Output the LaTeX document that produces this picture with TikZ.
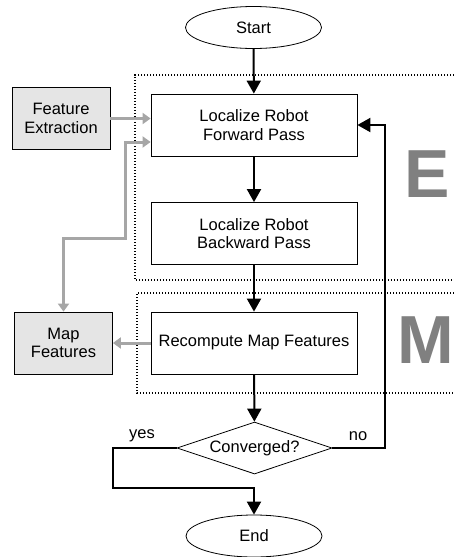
\documentclass[tikz,border=0pt]{standalone}
\usepackage{fontspec}
\setmainfont{Liberation Sans}
\usetikzlibrary{shapes.geometric,arrows.meta}

\begin{document}
\begin{tikzpicture}
  [x=1pt,y=-1pt,font=\fontsize{16.5}{18.5}\selectfont,
   every node/.style={align=center,inner sep=0pt},
   box/.style={draw,line width=0.8pt,minimum width=206pt,minimum height=62pt},
   side/.style={draw,line width=0.8pt,fill=black!10,minimum width=98pt,minimum height=62pt},
   term/.style={ellipse,draw,line width=0.8pt,minimum width=136pt,minimum height=42pt},
   decision/.style={diamond,draw,line width=0.8pt,shape aspect=3,minimum width=155pt,minimum height=52pt},
   flow/.style={line width=2pt,-{Triangle[length=13pt,width=14pt]}},
   feed/.style={line width=3pt,black!35,-{Triangle[length=8pt,width=11pt]}},
   step box/.style={line width=1.3pt,dash pattern=on 1.3pt off 1.7pt},
   letter/.style={anchor=base west,font=\fontsize{68}{68}\selectfont\bfseries,text=black!50}]
  \useasboundingbox (0,0) rectangle (453,557);

  \draw[step box] (460,75) -| (135,280) -- (460,280);
  \draw[step box] (460,293) -| (137,393) -- (460,393);
  \node[letter] (eletter) at (404,197) {E};
  \node[letter] (mletter) at (397,363) {M};

  \node[term] (start) at (253.5,27.5) {Start};
  \node[box] (fwd) at (254,125) {Localize Robot\\Forward Pass};
  \node[box] (bwd) at (254,233.5) {Localize Robot\\Backward Pass};
  \node[box] (rcmp) at (254,343) {Recompute Map Features};
  \node[side] (feat) at (61,118.5) {Feature\\Extraction};
  \node[side] (map) at (63.5,343) {Map\\Features};
  \node[decision] (conv) at (254.5,448) {Converged?};
  \node[term] (end) at (254,536) {End};
  \node (lyes) at (142,436) {yes};
  \node (lno) at (358,436) {no};

  \coordinate (yesturn) at (113,488);
  \coordinate (noturn) at (385,125);
  \coordinate (mapturn) at (125,238);

  \foreach \from/\to in {start/fwd,fwd/bwd,bwd/rcmp,rcmp/conv}
    \draw[flow] (\from) -- (\to);
  \draw[flow] (conv.west) -| (yesturn) -| (end.north);
  \draw[flow] (conv.east) -| (noturn) -- (fwd.east);

  \draw[feed] (feat.east) -- (feat.east -| fwd.west);
  \draw[feed] (rcmp.west) -- (map.east);
  \draw[feed,{Triangle[length=8pt,width=11pt]}-{Triangle[length=8pt,width=11pt]}]
    ([yshift=-17pt]fwd.west) -| (mapturn) -| (map.north);
\end{tikzpicture}
\end{document}
